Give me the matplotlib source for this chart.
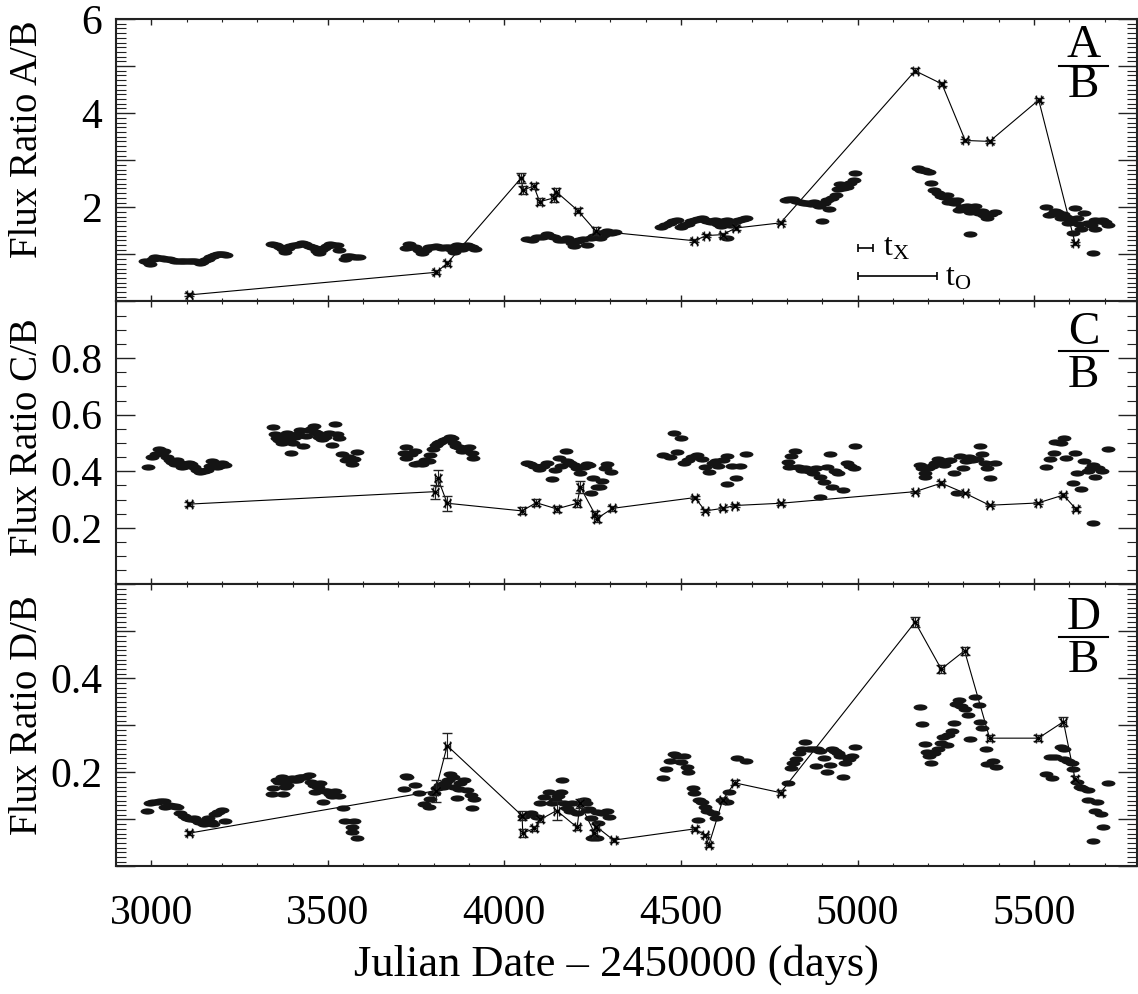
import matplotlib
matplotlib.use('Agg')
import matplotlib.pyplot as plt
from matplotlib.path import Path
from matplotlib.transforms import Affine2D
from matplotlib.ticker import MultipleLocator, FuncFormatter

plt.rcParams['font.family'] = ['Liberation Serif', 'DejaVu Serif']

# ---------------- A/B ----------------
ab_opt_day = [2983, 2990, 2997, 3005, 3011, 3020, 3030, 3040, 3049, 3058, 3068, 3078, 3087, 3096, 3106,
              3115, 3125, 3137, 3145, 3153, 3160, 3167, 3174, 3181, 3188, 3195, 3204, 3212,
              3342, 3352, 3365, 3373, 3380, 3387, 3394, 3404, 3413, 3420, 3427, 3436, 3446, 3455, 3465,
              3470, 3474, 3482, 3490, 3498, 3507, 3516, 3526, 3531, 3550, 3555, 3562, 3578, 3587,
              3720, 3729, 3738, 3748, 3757, 3767, 3776, 3786, 3795, 3805, 3814, 3823, 3832, 3842, 3849,
              3856, 3862, 3866, 3873, 3880, 3887, 3894, 3901, 3908, 3918,
              4064, 4078, 4093, 4107, 4121, 4130, 4140, 4154, 4165, 4178, 4192, 4196, 4205, 4211, 4222,
              4234, 4244, 4255, 4267, 4272, 4280, 4291, 4303, 4314,
              4443, 4455, 4468, 4478, 4488, 4499, 4509, 4519, 4529, 4539, 4549, 4559, 4567, 4574, 4585,
              4595, 4605, 4612, 4620, 4630, 4630, 4640, 4645, 4655, 4665, 4675, 4683,
              4797, 4807, 4817, 4827, 4837, 4848, 4858, 4868, 4878, 4885, 4891, 4898, 4906, 4913, 4918,
              4928, 4939, 4944, 4949, 4960, 4969, 4980, 4989, 4994,
              5171, 5180, 5187, 5195, 5202, 5207, 5217, 5227, 5237, 5245, 5252, 5257, 5265, 5272, 5283,
              5288, 5296, 5303, 5310, 5318, 5318, 5325, 5333, 5343, 5353, 5358, 5368, 5378, 5389,
              5535, 5541, 5550, 5558, 5566, 5576, 5583, 5591, 5596, 5605, 5611, 5616, 5621, 5626, 5632,
              5642, 5652, 5660, 5667, 5672, 5672, 5682, 5692, 5700, 5708]
ab_opt = [0.87, 0.83, 0.80, 0.90, 0.95, 0.93, 0.92, 0.90, 0.90, 0.88, 0.87, 0.86, 0.85, 0.86, 0.86,
          0.85, 0.85, 0.81, 0.84, 0.88, 0.91, 0.94, 0.96, 0.99, 1.00, 1.01, 1.00, 0.99,
          1.22, 1.20, 1.16, 1.12, 1.06, 1.14, 1.18, 1.20, 1.21, 1.23, 1.25, 1.22, 1.18, 1.16, 1.13,
          1.08, 1.02, 1.10, 1.13, 1.18, 1.22, 1.21, 1.20, 1.09, 0.90, 0.97, 0.96, 0.94, 0.95,
          1.13, 1.22, 1.16, 1.15, 1.10, 1.04, 1.10, 1.15, 1.16, 1.18, 1.16, 1.13, 1.15, 1.16, 1.12,
          1.06, 1.14, 1.20, 1.17, 1.12, 1.16, 1.20, 1.18, 1.15, 1.12,
          1.32, 1.30, 1.36, 1.38, 1.43, 1.40, 1.36, 1.31, 1.30, 1.34, 1.24, 1.18, 1.28, 1.31, 1.32,
          1.20, 1.34, 1.40, 1.45, 1.34, 1.42, 1.50, 1.46, 1.48,
          1.59, 1.63, 1.67, 1.70, 1.72, 1.59, 1.62, 1.65, 1.70, 1.73, 1.75, 1.77, 1.72, 1.70, 1.68,
          1.73, 1.65, 1.60, 1.70, 1.73, 1.34, 1.62, 1.67, 1.70, 1.73, 1.75, 1.77,
          2.16, 2.17, 2.17, 2.14, 2.12, 2.10, 2.09, 2.06, 2.12, 2.08, 2.03, 1.70, 2.10, 2.16, 1.96,
          2.20, 2.26, 2.38, 2.50, 2.42, 2.44, 2.52, 2.58, 2.72,
          2.83, 2.80, 2.79, 2.77, 2.74, 2.52, 2.37, 2.30, 2.23, 2.22, 2.26, 2.12, 2.15, 2.09, 2.16,
          1.94, 2.00, 1.98, 2.02, 1.91, 1.43, 1.97, 2.03, 1.87, 1.93, 1.84, 1.77, 1.86, 1.89,
          2.00, 1.84, 1.86, 1.93, 1.89, 1.77, 1.85, 1.80, 1.67, 1.72, 1.45, 1.98, 1.77, 1.65, 1.55,
          1.87, 1.67, 1.62, 1.02, 1.53, 1.73, 1.70, 1.73, 1.68, 1.62]
ab_xr_day = [3108, 3807, 3838, 4047, 4053, 4083, 4100, 4140, 4147, 4208, 4258, 4538, 4572, 4618,
             4655, 4782, 5163, 5239, 5305, 5374, 5513, 5616]
ab_xr = [0.14, 0.62, 0.81, 2.62, 2.37, 2.45, 2.12, 2.20, 2.33, 1.93, 1.50, 1.29, 1.40, 1.42,
         1.56, 1.67, 4.90, 4.62, 3.42, 3.40, 4.28, 1.24]
ab_xr_err = [0.03, 0.04, 0.06, 0.10, 0.08, 0.06, 0.07, 0.08, 0.09, 0.06, 0.08, 0.03, 0.04, 0.04,
             0.04, 0.03, 0.05, 0.05, 0.04, 0.04, 0.05, 0.03]

# ---------------- C/B ----------------
cb_opt_day = [2990, 3002, 3012, 3021, 3030, 3037, 3044, 3052, 3059, 3066, 3073, 3080, 3087, 3096, 3106,
              3113, 3120, 3130, 3139, 3148, 3158, 3165, 3172, 3180, 3186, 3193, 3200, 3210,
              3346, 3351, 3356, 3363, 3370, 3378, 3384, 3390, 3396, 3402, 3408, 3415, 3422, 3431, 3438,
              3446, 3453, 3460, 3465, 3469, 3476, 3484, 3493, 3502, 3512, 3521, 3526, 3531, 3540, 3552,
              3559, 3569, 3575, 3583,
              3715, 3720, 3722, 3735, 3748, 3748, 3758, 3767, 3776, 3786, 3790, 3798, 3805, 3812, 3819,
              3828, 3838, 3845, 3852, 3856, 3864, 3871, 3880, 3890, 3899, 3908, 3911,
              4064, 4073, 4083, 4097, 4110, 4121, 4135, 4144, 4154, 4159, 4173, 4178, 4187, 4196, 4205,
              4215, 4225, 4235, 4239, 4244, 4251, 4263, 4271, 4276, 4285, 4291, 4301,
              4448, 4468, 4479, 4488, 4499, 4509, 4519, 4530, 4544, 4559, 4569, 4579, 4590, 4599, 4605,
              4620, 4630, 4630, 4645, 4655, 4666, 4683,
              4802, 4807, 4812, 4822, 4832, 4842, 4850, 4858, 4866, 4873, 4883, 4893, 4893, 4904, 4913,
              4923, 4929, 4935, 4944, 4959, 4969, 4980, 4989, 4994,
              5176, 5183, 5191, 5191, 5200, 5212, 5220, 5227, 5235, 5246, 5252, 5262, 5272, 5283, 5290,
              5298, 5308, 5315, 5323, 5330, 5338, 5348, 5353, 5360, 5368, 5374, 5389,
              5535, 5545, 5555, 5560, 5576, 5586, 5591, 5611, 5616, 5621, 5632, 5642, 5652, 5660, 5667,
              5667, 5672, 5680, 5692, 5708]
cb_opt = [0.414, 0.452, 0.460, 0.478, 0.464, 0.470, 0.452, 0.440, 0.434, 0.425, 0.440, 0.430, 0.416,
          0.420, 0.430, 0.425, 0.416, 0.405, 0.399, 0.400, 0.405, 0.420, 0.437, 0.425, 0.416, 0.420,
          0.430, 0.422,
          0.555, 0.530, 0.517, 0.510, 0.499, 0.520, 0.534, 0.510, 0.466, 0.500, 0.522, 0.530, 0.546,
          0.489, 0.525, 0.546, 0.550, 0.560, 0.540, 0.534, 0.520, 0.513, 0.520, 0.534, 0.493, 0.566,
          0.530, 0.519, 0.460, 0.440, 0.452, 0.426, 0.445, 0.469,
          0.464, 0.487, 0.446, 0.460, 0.473, 0.426, 0.430, 0.426, 0.440, 0.437, 0.458, 0.480, 0.493,
          0.500, 0.505, 0.510, 0.513, 0.520, 0.517, 0.499, 0.490, 0.487, 0.473, 0.480, 0.487, 0.464,
          0.446,
          0.430, 0.425, 0.419, 0.407, 0.420, 0.428, 0.373, 0.405, 0.446, 0.419, 0.472, 0.437, 0.430,
          0.422, 0.410, 0.393, 0.415, 0.426, 0.422, 0.322, 0.375, 0.346, 0.343, 0.367, 0.410, 0.426,
          0.399,
          0.458, 0.452, 0.534, 0.469, 0.517, 0.428, 0.440, 0.450, 0.458, 0.442, 0.416, 0.399, 0.430,
          0.437, 0.419, 0.440, 0.454, 0.354, 0.419, 0.375, 0.419, 0.461,
          0.434, 0.416, 0.454, 0.472, 0.416, 0.405, 0.410, 0.405, 0.400, 0.395, 0.411, 0.381, 0.308,
          0.363, 0.416, 0.460, 0.343, 0.400, 0.395, 0.334, 0.428, 0.420, 0.410, 0.490,
          0.422, 0.410, 0.395, 0.379, 0.410, 0.419, 0.430, 0.442, 0.430, 0.422, 0.437, 0.440, 0.395,
          0.322, 0.454, 0.410, 0.437, 0.450, 0.440, 0.445, 0.442, 0.490, 0.461, 0.430, 0.411, 0.377,
          0.430,
          0.416, 0.442, 0.464, 0.505, 0.499, 0.517, 0.446, 0.360, 0.466, 0.395, 0.336, 0.437, 0.402,
          0.410, 0.422, 0.216, 0.379, 0.410, 0.402, 0.478]
cb_xr_day = [3108, 3804, 3811, 3838, 4050, 4090, 4148, 4206, 4215, 4256, 4261, 4306, 4539, 4569,
             4618, 4652, 4782, 5163, 5237, 5305, 5374, 5511, 5583, 5618]
cb_xr = [0.284, 0.328, 0.377, 0.287, 0.260, 0.289, 0.267, 0.287, 0.344, 0.249, 0.232, 0.269, 0.307,
         0.260, 0.269, 0.279, 0.287, 0.328, 0.358, 0.322, 0.280, 0.288, 0.316, 0.267]
cb_xr_err = [0.006, 0.025, 0.028, 0.026, 0.012, 0.012, 0.012, 0.012, 0.02, 0.012, 0.012, 0.01, 0.006,
             0.005, 0.005, 0.005, 0.005, 0.004, 0.008, 0.004, 0.004, 0.004, 0.008, 0.006]

# ---------------- D/B ----------------
db_opt_day = [2988, 2997, 3006, 3016, 3025, 3035, 3040, 3050, 3059, 3066, 3073, 3082, 3092, 3101, 3110,
              3120, 3128, 3134, 3148, 3155, 3162, 3170, 3176, 3181, 3190, 3200, 3210,
              3342, 3346, 3356, 3362, 3370, 3373, 3378, 3384, 3391, 3398, 3405, 3413, 3420, 3427, 3436,
              3446, 3453, 3460, 3465, 3472, 3479, 3486, 3492, 3498, 3505, 3512, 3521, 3531, 3543, 3550,
              3569, 3573, 3569, 3583,
              3717, 3720, 3725, 3748, 3757, 3771, 3786, 3790, 3800, 3809, 3819, 3826, 3833, 3840, 3847,
              3855, 3858, 3866, 3870, 3875, 3885, 3894, 3904, 3908, 3913,
              4055, 4074, 4093, 4102, 4111, 4125, 4135, 4144, 4152, 4159, 4163, 4168, 4178, 4187, 4192,
              4206, 4225, 4230, 4235, 4239, 4246, 4249, 4261, 4263, 4266, 4276, 4291, 4296,
              4448, 4458, 4468, 4479, 4490, 4499, 4509, 4517, 4519, 4535, 4538, 4547, 4550, 4559, 4569,
              4574, 4590, 4600, 4615, 4630, 4635, 4660, 4685,
              4802, 4812, 4817, 4827, 4834, 4843, 4852, 4862, 4873, 4883, 4885, 4895, 4904, 4913, 4923,
              4929, 4937, 4944, 4950, 4959, 4964, 4975, 4984, 4994,
              5176, 5183, 5191, 5196, 5201, 5207, 5217, 5227, 5237, 5242, 5252, 5257, 5268, 5272, 5278,
              5288, 5293, 5303, 5313, 5318, 5333, 5343, 5346, 5353, 5363, 5368, 5384, 5391,
              5535, 5545, 5550, 5560, 5576, 5586, 5586, 5596, 5606, 5609, 5621, 5630, 5637, 5652, 5652,
              5667, 5672, 5677, 5690, 5694, 5708]
db_opt = [0.117, 0.136, 0.137, 0.138, 0.140, 0.140, 0.126, 0.130, 0.129, 0.128, 0.126, 0.113, 0.108,
          0.103, 0.100, 0.103, 0.098, 0.095, 0.090, 0.096, 0.103, 0.095, 0.090, 0.112, 0.115, 0.120,
          0.097,
          0.154, 0.166, 0.183, 0.180, 0.191, 0.154, 0.170, 0.173, 0.185, 0.188, 0.185, 0.184, 0.190,
          0.191, 0.190, 0.195, 0.180, 0.173, 0.159, 0.170, 0.177, 0.138, 0.160, 0.161, 0.155, 0.149,
          0.161, 0.149, 0.124, 0.097, 0.085, 0.097, 0.073, 0.060,
          0.165, 0.193, 0.190, 0.173, 0.157, 0.133, 0.127, 0.143, 0.156, 0.166, 0.173, 0.170, 0.177,
          0.185, 0.197, 0.190, 0.170, 0.145, 0.165, 0.177, 0.184, 0.163, 0.152, 0.124, 0.143,
          0.107, 0.113, 0.105, 0.134, 0.147, 0.159, 0.134, 0.141, 0.150, 0.159, 0.183, 0.134, 0.125,
          0.119, 0.134, 0.113, 0.141, 0.134, 0.120, 0.122, 0.103, 0.060, 0.060, 0.115, 0.092, 0.113,
          0.119, 0.106,
          0.188, 0.207, 0.225, 0.239, 0.235, 0.223, 0.234, 0.212, 0.202, 0.168, 0.157, 0.099, 0.141,
          0.138, 0.126, 0.117, 0.113, 0.103, 0.141, 0.138, 0.159, 0.230, 0.225,
          0.178, 0.209, 0.220, 0.228, 0.241, 0.250, 0.264, 0.250, 0.250, 0.214, 0.250, 0.245, 0.230,
          0.202, 0.216, 0.251, 0.245, 0.242, 0.235, 0.191, 0.220, 0.228, 0.235, 0.255,
          0.339, 0.303, 0.261, 0.244, 0.235, 0.220, 0.241, 0.250, 0.262, 0.276, 0.258, 0.280, 0.289,
          0.305, 0.346, 0.354, 0.341, 0.334, 0.322, 0.271, 0.360, 0.344, 0.308, 0.294, 0.251, 0.218,
          0.225, 0.212,
          0.197, 0.232, 0.188, 0.232, 0.254, 0.250, 0.228, 0.225, 0.220, 0.207, 0.180, 0.170, 0.166,
          0.163, 0.141, 0.055, 0.119, 0.138, 0.112, 0.083, 0.178]
db_xr_day = [3108, 3805, 3838, 4050, 4052, 4085, 4102, 4148, 4206, 4214, 4255, 4260, 4309, 4539,
             4569, 4579, 4618, 4652, 4782, 5163, 5237, 5303, 5374, 5512, 5583, 5616]
db_xr = [0.071, 0.161, 0.257, 0.108, 0.071, 0.081, 0.100, 0.119, 0.083, 0.134, 0.072, 0.085, 0.056,
         0.080, 0.066, 0.046, 0.141, 0.178, 0.157, 0.520, 0.420, 0.459, 0.273, 0.273, 0.308, 0.186]
db_xr_err = [0.004, 0.023, 0.026, 0.010, 0.008, 0.006, 0.006, 0.020, 0.006, 0.010, 0.006, 0.006, 0.005,
             0.004, 0.004, 0.004, 0.005, 0.005, 0.005, 0.010, 0.008, 0.008, 0.006, 0.006, 0.010, 0.006]

# time-scale bars drawn in the top panel (days)
tx_days = 45
to_days = 224

ellipse = Path.unit_circle().transformed(Affine2D().scale(1.0, 0.45))

fig = plt.figure(figsize=(11.38, 9.94), dpi=100)
left, width = 0.1019, 0.8968
ax1 = fig.add_axes([left, 0.6967, width, 0.2842])
ax2 = fig.add_axes([left, 0.4120, width, 0.2847], sharex=ax1)
ax3 = fig.add_axes([left, 0.1283, width, 0.2837], sharex=ax1)


def draw_panel(ax, opt_day, opt_val, xr_day, xr_val, xr_err):
    ax.plot(xr_day, xr_val, color='k', lw=0.8, zorder=2)
    ax.plot(opt_day, opt_val, ls='none', marker=ellipse, ms=10, color='#141414',
            mec='none', zorder=3)
    ax.errorbar(xr_day, xr_val, yerr=xr_err, xerr=7, fmt='x', ms=5.5, mew=1.0,
                color='k', ecolor='#222222', elinewidth=0.8, capsize=3.5, capthick=0.8, zorder=4)


draw_panel(ax1, ab_opt_day, ab_opt, ab_xr_day, ab_xr, ab_xr_err)
draw_panel(ax2, cb_opt_day, cb_opt, cb_xr_day, cb_xr, cb_xr_err)
draw_panel(ax3, db_opt_day, db_opt, db_xr_day, db_xr, db_xr_err)

ax1.set_ylim(0, 6)
ax2.set_ylim(0, 1.0)
ax3.set_ylim(0, 0.6)

ax1.yaxis.set_major_locator(MultipleLocator(1))
ax1.yaxis.set_minor_locator(MultipleLocator(0.1))
ax1.yaxis.set_major_formatter(FuncFormatter(lambda v, p: f'{v:g}' if round(v) in (2, 4, 6) else ''))
ax2.yaxis.set_major_locator(MultipleLocator(0.2))
ax2.yaxis.set_minor_locator(MultipleLocator(0.05))
ax2.yaxis.set_major_formatter(FuncFormatter(lambda v, p: f'{v:.1f}' if 0.1 < v < 0.9 else ''))
ax3.yaxis.set_major_locator(MultipleLocator(0.1))
ax3.yaxis.set_minor_locator(MultipleLocator(0.01))
ax3.yaxis.set_major_formatter(FuncFormatter(lambda v, p: f'{v:.1f}' if round(v * 10) in (2, 4) else ''))

ax1.set_xlim(2900, 5790)
ax1.xaxis.set_major_locator(MultipleLocator(500))
ax1.xaxis.set_minor_locator(MultipleLocator(100))

for ax in (ax1, ax2, ax3):
    ax.tick_params(which='both', direction='in', top=True, right=True, labelsize=30, color='#222222')
    ax.tick_params(axis='y', which='major', length=14, width=1.0, pad=10)
    ax.tick_params(axis='y', which='minor', length=7, width=0.8)
    ax.tick_params(axis='x', which='major', length=4.5, width=1.0, pad=20)
    ax.tick_params(axis='x', which='minor', length=2.5, width=0.8)
    for s in ax.spines.values():
        s.set_linewidth(1.5)
        s.set_color('#222222')
ax1.tick_params(labelbottom=False)
ax2.tick_params(labelbottom=False)

ax1.set_ylabel('Flux Ratio A/B', fontsize=28, va='center')
ax2.set_ylabel('Flux Ratio C/B', fontsize=28, va='center')
ax3.set_ylabel('Flux Ratio D/B', fontsize=28, va='center')
ax1.yaxis.set_label_coords(-0.087, 0.575)
ax2.yaxis.set_label_coords(-0.087, 0.522)
ax3.yaxis.set_label_coords(-0.087, 0.537)

fig.text(0.5417, 0.0292, 'Julian Date \u2013 2450000 (days)', ha='center', va='center', fontsize=32)

# ratio labels in the upper right corner of each panel
fracs = [(ax1, 'A', 0.905, 0.835, 0.762), (ax2, 'C', 0.890, 0.824, 0.738), (ax3, 'D', 0.882, 0.815, 0.730)]
for ax, top, ytop, yline, ybot in fracs:
    ax.text(0.948, ytop, top, transform=ax.transAxes, ha='center', va='center', fontsize=34)
    ax.text(0.948, ybot, 'B', transform=ax.transAxes, ha='center', va='center', fontsize=34)
    ax.plot([0.924, 0.972], [yline, yline], transform=ax.transAxes, color='k', lw=1.5)

# t_x and t_O scale bars
ax1.errorbar(5000 + tx_days / 2, 1.13, xerr=tx_days / 2, fmt='none', ecolor='k', elinewidth=1.2,
             capsize=3, capthick=1.2)
ax1.errorbar(5000 + to_days / 2, 0.54, xerr=to_days / 2, fmt='none', ecolor='k', elinewidth=1.2,
             capsize=3, capthick=1.2)
ax1.text(5072, 1.13, r'$\mathregular{t_X}$', va='center', ha='left', fontsize=23)
ax1.text(5248, 0.50, r'$\mathregular{t_O}$', va='center', ha='left', fontsize=23)

fig.savefig('out.png', dpi=100)
